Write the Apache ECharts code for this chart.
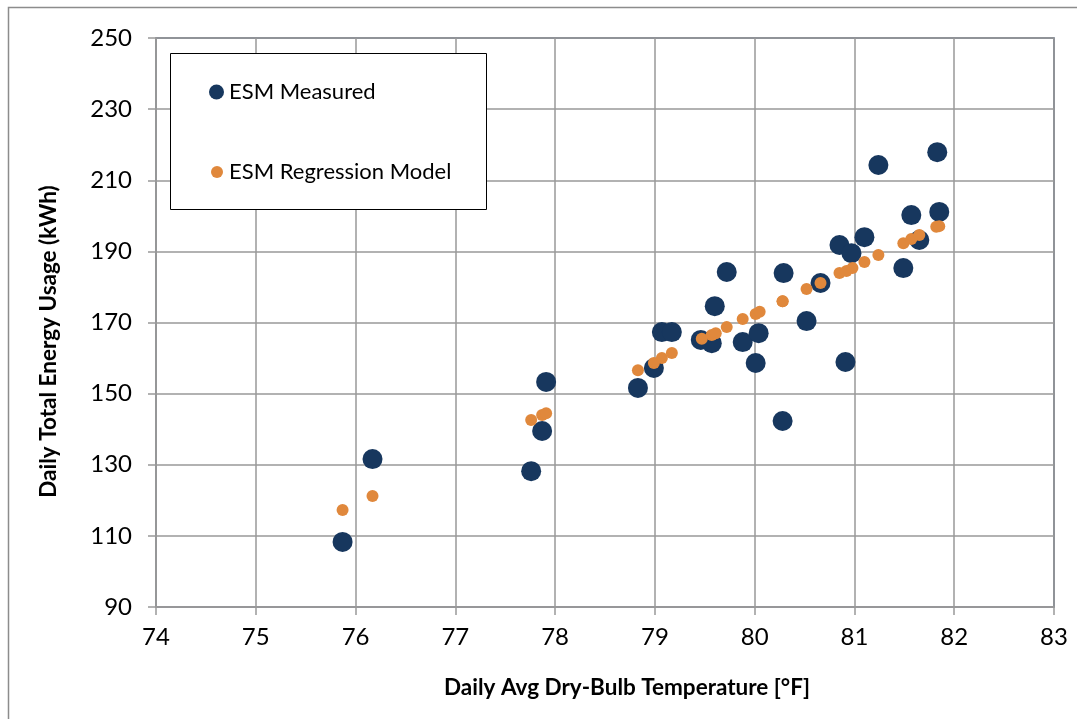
<!DOCTYPE html>
<html>
<head>
<meta charset="utf-8">
<script src="https://cdn.jsdelivr.net/npm/echarts@6/dist/echarts.min.js"></script>
<style>
html,body{margin:0;padding:0;background:#fff;}
#c{width:1077px;height:719px;}
</style>
</head>
<body>
<div id="c"></div>
<script>
// Daily avg dry-bulb temperature [°F] and measured daily energy (kWh)
const measuredTemp = [75.87,76.17,77.76,77.87,77.91,78.83,78.99,79.07,79.17,79.46,79.57,79.60,79.72,79.88,80.01,80.04,80.28,80.29,80.52,80.66,80.85,80.97,81.10,80.91,81.24,81.49,81.57,81.65,81.83,81.85];
const measuredKWh  = [108.3,131.6,128.2,139.5,153.3,151.6,157.2,167.3,167.3,165.1,164.2,174.6,184.2,164.5,158.6,167.0,142.3,183.9,170.4,181.1,191.8,189.5,194.0,158.9,214.3,185.3,200.2,193.2,217.9,201.1];
// Regression model predictions
const modelTemp = [75.87,76.17,77.76,77.87,77.91,78.83,78.99,79.07,79.17,79.47,79.57,79.61,79.72,79.88,80.01,80.05,80.28,80.28,80.52,80.66,80.85,80.92,80.98,81.10,81.24,81.49,81.57,81.65,81.82,81.85];
const modelKWh  = [117.3,121.2,142.6,144.0,144.5,156.6,158.6,160.0,161.4,165.4,166.5,167.0,168.7,171.0,172.4,173.0,176.0,176.0,179.4,181.1,183.9,184.5,185.3,187.0,189.0,192.3,193.5,194.6,196.9,197.1];

const seriesNames = ['ESM Measured','ESM Regression Model'];
const xTitle = 'Daily Avg Dry-Bulb Temperature [°F]';
const yTitle = 'Daily Total Energy Usage (kWh)';

const FONT = 'Lato';
const chart = echarts.init(document.getElementById('c'), null, {renderer:'canvas'});
chart.setOption({
  backgroundColor:'#fff',
  animation:false,
  textStyle:{fontFamily:FONT},
  grid:{left:156,top:38,right:23,bottom:112,show:true,borderColor:'#4d5e75',borderWidth:1.5,backgroundColor:'transparent'},
  xAxis:{
    type:'value',min:74,max:83,interval:1,
    name:xTitle,nameLocation:'middle',nameGap:69,
    nameTextStyle:{fontFamily:FONT,fontWeight:'bold',fontSize:22.5,color:'#000',padding:[0,0,0,44]},
    axisLine:{show:true,lineStyle:{color:'#999',width:1.5}},
    axisTick:{show:true,length:8,lineStyle:{color:'#999',width:1.5}},
    axisLabel:{fontSize:24,color:'#000',margin:18,fontFamily:FONT},
    splitLine:{show:true,lineStyle:{color:'#999',width:1.5}}
  },
  yAxis:{
    type:'value',min:90,max:250,interval:20,
    name:yTitle,nameLocation:'middle',nameGap:96,nameRotate:90,
    nameTextStyle:{fontFamily:FONT,fontWeight:'bold',fontSize:22.5,color:'#000',padding:[0,38,0,0]},
    axisLine:{show:true,lineStyle:{color:'#999',width:1.5}},
    axisTick:{show:true,length:8,lineStyle:{color:'#999',width:1.5}},
    axisLabel:{fontSize:24,color:'#000',margin:24,fontFamily:FONT},
    splitLine:{show:true,lineStyle:{color:'#999',width:1.5}}
  },
  graphic:[
    {type:'rect',z:-10,silent:true,shape:{x:8.5,y:7.5,width:1100,height:760},style:{fill:'none',stroke:'#8c8c8c',lineWidth:1.5}},
    {type:'rect',z:3,silent:true,shape:{x:170.5,y:53.5,width:316,height:156},style:{fill:'#fff',stroke:'#000',lineWidth:1}}
  ],
  legend:[
    {data:[seriesNames[0]],left:204,top:76,icon:'circle',itemWidth:15,itemHeight:15,itemGap:0,z:10,
     textStyle:{fontSize:22,color:'#000',fontFamily:FONT}},
    {data:[seriesNames[1]],left:206,top:156,icon:'circle',itemWidth:12,itemHeight:12,itemGap:0,z:10,
     textStyle:{fontSize:22,color:'#000',fontFamily:FONT,padding:[0,0,0,1]}}
  ],
  series:[
    {name:seriesNames[0],type:'scatter',symbol:'circle',symbolSize:20,
     itemStyle:{color:'#17375e',opacity:1},
     data:measuredTemp.map((t,i)=>[t,measuredKWh[i]]),z:2},
    {name:seriesNames[1],type:'scatter',symbol:'circle',symbolSize:12,
     itemStyle:{color:'#e0883c',opacity:1},
     data:modelTemp.map((t,i)=>[t,modelKWh[i]]),z:3}
  ]
});
</script>
</body>
</html>
